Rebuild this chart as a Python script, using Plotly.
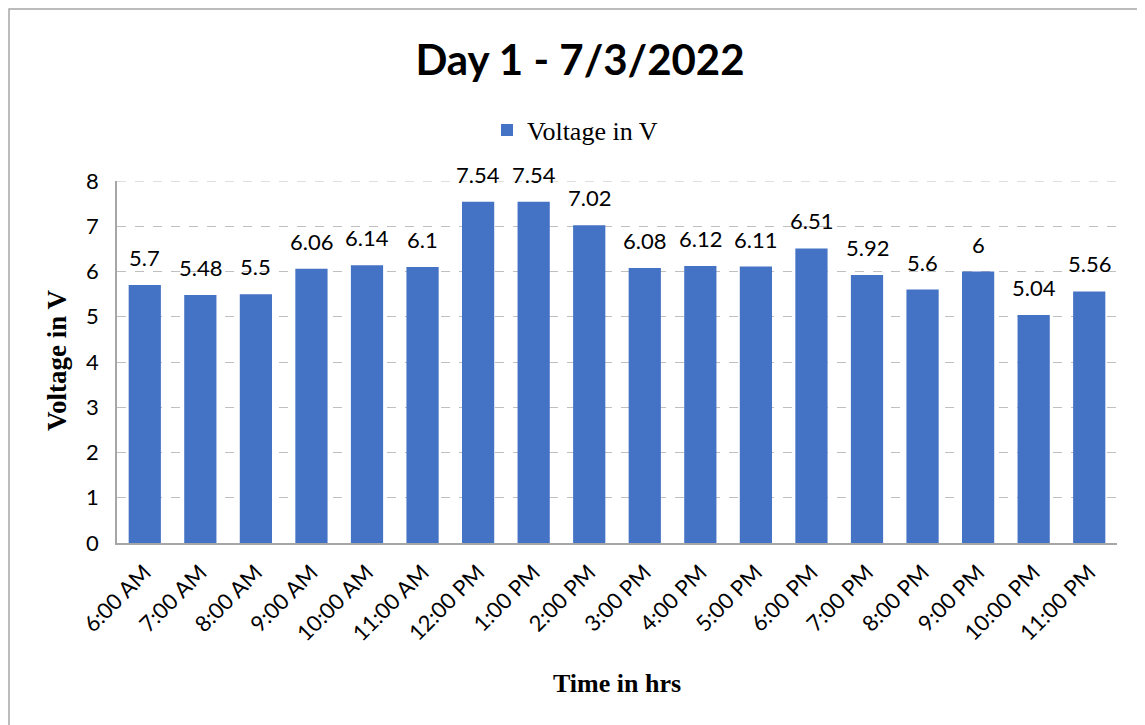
import plotly.graph_objects as go

times = ["6:00 AM", "7:00 AM", "8:00 AM", "9:00 AM", "10:00 AM", "11:00 AM",
         "12:00 PM", "1:00 PM", "2:00 PM", "3:00 PM", "4:00 PM", "5:00 PM",
         "6:00 PM", "7:00 PM", "8:00 PM", "9:00 PM", "10:00 PM", "11:00 PM"]
voltage = [5.7, 5.48, 5.5, 6.06, 6.14, 6.1, 7.54, 7.54, 7.02, 6.08, 6.12, 6.11,
           6.51, 5.92, 5.6, 6, 5.04, 5.56]
labels = [f"{v:g}" for v in voltage]

W, H = 1145, 725
# page body has an 8px offset; figure coordinates below
L, R, T, B = 109, 1109, 173, 535
CAL = "Lato, Carlito, Calibri, sans-serif"
TNR = "Liberation Serif, Times New Roman, serif"

def px(x):
    return (x - L) / (R - L)

def py(y):
    return (B - y) / (B - T)

fig = go.Figure()
fig.add_trace(go.Bar(
    x=times, y=voltage, name="Voltage in V",
    marker=dict(color="#4472C4", line=dict(width=0)),
))

annotations = [
    dict(x=t, y=v, xref="x", yref="y", text=lab, showarrow=False,
         yanchor="bottom", xanchor="center", yshift=12,
         font=dict(family=CAL, size=22, color="#000000"))
    for t, v, lab in zip(times, voltage, labels)
]
annotations += [
    dict(text="<b>Time in hrs</b>", xref="paper", yref="paper", x=0.5, y=py(675),
         xanchor="center", yanchor="middle", showarrow=False,
         font=dict(family=TNR, size=26, color="#000000")),
    dict(text="<b>Voltage in V</b>", xref="paper", yref="paper", x=px(49), y=py(352),
         xanchor="center", yanchor="middle", showarrow=False, textangle=-90,
         font=dict(family=TNR, size=27, color="#000000")),
]

fig.update_layout(
    width=W, height=H,
    margin=dict(l=L, r=W - R, t=T, b=H - B, autoexpand=False),
    paper_bgcolor="white", plot_bgcolor="white",
    bargap=0.42,
    title=dict(text="<b>Day 1 - 7/3/2022</b>", x=px(572), xanchor="center",
               xref="paper", y=1 - 52 / H, yanchor="middle",
               font=dict(family=CAL, size=42, color="#000000")),
    showlegend=True,
    legend=dict(orientation="h", x=px(567), xanchor="center", y=py(122), yanchor="middle",
                font=dict(family=TNR, size=26, color="#000000"),
                itemwidth=30, bgcolor="rgba(0,0,0,0)"),
    xaxis=dict(
        automargin=False,
        tickangle=-45, tickfont=dict(family=CAL, size=22, color="#000000"),
        showline=True, linecolor="#A6A6A6", linewidth=2,
        ticks="outside", ticklen=6, tickcolor="rgba(0,0,0,0)",
    ),
    yaxis=dict(
        automargin=False,
        range=[0, 8], dtick=1,
        tickfont=dict(family=CAL, size=22, color="#000000"),
        showgrid=True, gridcolor="#BFBFBF", griddash="dash", gridwidth=1,
        showline=True, linecolor="#A6A6A6", linewidth=1.5,
        ticks="outside", ticklen=12, tickcolor="rgba(0,0,0,0)",
        zeroline=False,
    ),
    annotations=annotations,
    shapes=[
        dict(type="rect", xref="paper", yref="paper",
             x0=px(1), x1=px(1160), y0=py(740), y1=py(1),
             line=dict(color="#A6A6A6", width=1.5), fillcolor="rgba(0,0,0,0)", layer="below"),
        dict(type="line", xref="paper", yref="y", x0=0, x1=1, y0=8, y1=8,
             line=dict(color="#BFBFBF", width=1, dash="dash"), layer="below"),
    ],
)

fig.write_html("out.html")
